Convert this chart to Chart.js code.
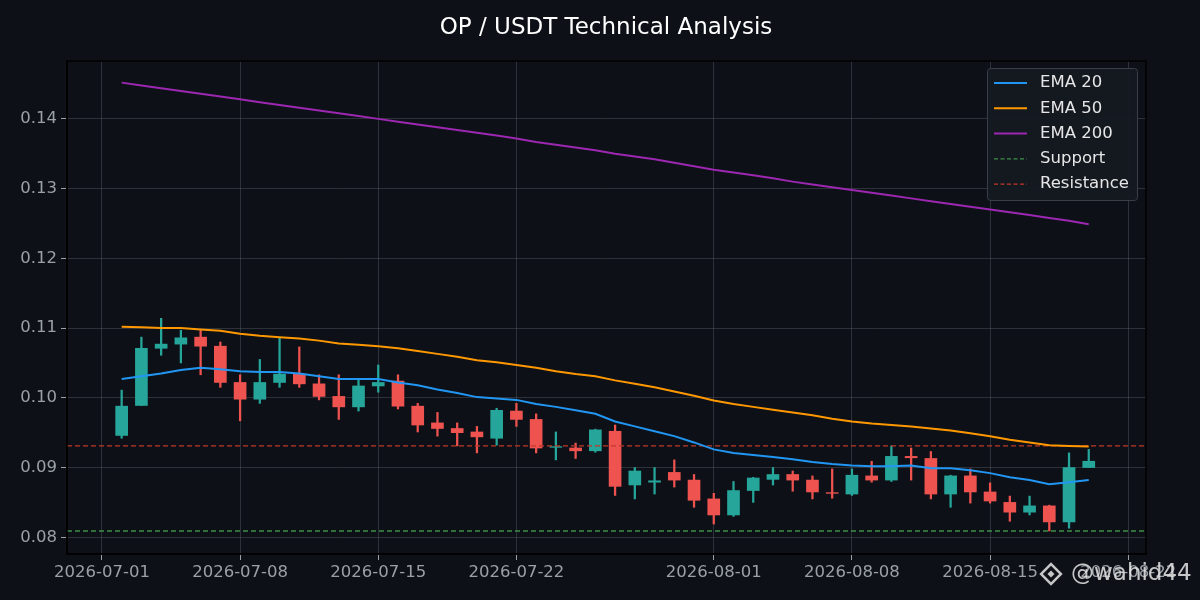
<!DOCTYPE html>
<html><head><meta charset="utf-8">
<script src="https://cdn.jsdelivr.net/npm/chart.js@4"></script>
<style>html,body{margin:0;background:#0d1117;}#w{width:1200px;height:600px;}</style>
</head><body><div id="w"><canvas id="c" width="1200" height="600"></canvas></div>
<script>
// day index 0 = 2026-07-01
const startDay = 1;
const opens  = [0.0946,0.0989,0.1071,0.1077,0.1087,0.1074,0.1022,0.0998,0.1022,0.1034,0.1020,0.1002,0.0987,0.1017,0.1024,0.0988,0.0964,0.0956,0.0951,0.0942,0.0981,0.0969,0.0929,0.0928,0.0924,0.0952,0.0875,0.0879,0.0893,0.0882,0.0855,0.0832,0.0867,0.0883,0.0890,0.0882,0.0864,0.0862,0.0888,0.0882,0.0916,0.0913,0.0862,0.0888,0.0865,0.0850,0.0836,0.0845,0.0822,0.0900];
const closes = [0.0988,0.1071,0.1077,0.1086,0.1074,0.1022,0.0998,0.1022,0.1034,0.1020,0.1002,0.0987,0.1017,0.1022,0.0988,0.0961,0.0956,0.0950,0.0944,0.0982,0.0969,0.0928,0.0930,0.0924,0.0954,0.0873,0.0895,0.0881,0.0882,0.0853,0.0832,0.0867,0.0885,0.0890,0.0882,0.0865,0.0863,0.0889,0.0882,0.0916,0.0914,0.0862,0.0888,0.0865,0.0852,0.0836,0.0845,0.0822,0.0900,0.0909];
const highs  = [0.1011,0.1087,0.1114,0.1097,0.1097,0.1080,0.1033,0.1055,0.1086,0.1073,0.1033,0.1033,0.1028,0.1047,0.1033,0.0992,0.0979,0.0964,0.0959,0.0985,0.0992,0.0977,0.0951,0.0935,0.0955,0.0961,0.0900,0.0900,0.0911,0.0890,0.0863,0.0880,0.0886,0.0900,0.0895,0.0888,0.0898,0.0898,0.0909,0.0931,0.0928,0.0923,0.0889,0.0898,0.0878,0.0859,0.0859,0.0846,0.0921,0.0926];
const lows   = [0.0942,0.0989,0.1061,0.1050,0.1033,0.1015,0.0967,0.0992,0.1015,0.1015,0.0997,0.0969,0.0981,0.1008,0.0984,0.0951,0.0945,0.0931,0.0921,0.0932,0.0959,0.0921,0.0911,0.0913,0.0922,0.0860,0.0855,0.0862,0.0872,0.0843,0.0819,0.0830,0.0850,0.0875,0.0866,0.0855,0.0856,0.0860,0.0879,0.0880,0.0882,0.0855,0.0843,0.0849,0.0849,0.0823,0.0832,0.0809,0.0813,0.0900];
const ema20  = [0.1027,0.1031,0.1035,0.1040,0.1043,0.1041,0.1038,0.1037,0.1037,0.1035,0.1031,0.1027,0.1027,0.1027,0.1022,0.1018,0.1012,0.1007,0.1001,0.0999,0.0997,0.0991,0.0987,0.0982,0.0977,0.0966,0.0959,0.0952,0.0945,0.0936,0.0926,0.0921,0.0918,0.0915,0.0912,0.0908,0.0905,0.0903,0.0902,0.0902,0.0903,0.0899,0.0899,0.0896,0.0892,0.0886,0.0882,0.0876,0.0879,0.0882];
const ema50  = [0.1102,0.1101,0.1100,0.1100,0.1098,0.1096,0.1092,0.1089,0.1087,0.1085,0.1082,0.1078,0.1076,0.1074,0.1071,0.1067,0.1063,0.1059,0.1054,0.1051,0.1047,0.1043,0.1038,0.1034,0.1031,0.1025,0.1020,0.1015,0.1009,0.1003,0.0996,0.0991,0.0987,0.0983,0.0979,0.0975,0.0970,0.0966,0.0963,0.0961,0.0959,0.0956,0.0953,0.0949,0.0945,0.0940,0.0936,0.0932,0.0931,0.0930];
const ema200 = [0.1452,0.1448,0.1444,0.1440,0.1436,0.1432,0.1428,0.1424,0.1420,0.1416,0.1412,0.1408,0.1404,0.1400,0.1396,0.1392,0.1388,0.1384,0.1380,0.1376,0.1372,0.1367,0.1363,0.1359,0.1355,0.1350,0.1346,0.1342,0.1337,0.1332,0.1327,0.1323,0.1319,0.1315,0.1310,0.1306,0.1302,0.1298,0.1294,0.1290,0.1286,0.1282,0.1278,0.1274,0.1270,0.1266,0.1262,0.1258,0.1254,0.1249];
const support = 0.0809, resistance = 0.0931;
const tickDays = [0,7,14,21,31,38,45,52];
const tickLabels = ['2026-07-01','2026-07-08','2026-07-15','2026-07-22','2026-08-01','2026-08-08','2026-08-15','2026-08-22'];
const title = 'OP / USDT Technical Analysis';

const UP='#26a69a', DN='#ef5350';
const xs = opens.map((_,i)=>startDay+i);
const col = opens.map((o,i)=> closes[i]>=o?UP:DN);
const line = (arr,c,label)=>({type:'line',label,data:arr.map((v,i)=>({x:xs[i],y:v})),borderColor:c,borderWidth:2,pointRadius:0,tension:0,order:0});
const xmin=-1.77, xmax=52.9;
const hline=(v,c,label)=>({type:'line',label,data:[{x:xmin,y:v},{x:xmax,y:v}],borderColor:c,borderWidth:1.3,borderDash:[5,3],pointRadius:0,order:1});

const legendPlugin={id:'lg',afterDraw(ch){
  const c=ch.ctx;
  c.save();
  c.fillStyle='#ffffff';c.font='23px "DejaVu Sans"';c.textAlign='center';c.textBaseline='middle';
  c.fillText(title,606,28);
  const x=987,y=68,w=150,h=132;
  c.fillStyle='rgba(21,26,34,0.92)';c.strokeStyle='#3a3f47';c.lineWidth=1;
  c.beginPath();c.roundRect(x+0.5,y+0.5,w,h,3);c.fill();c.stroke();
  const items=[['EMA 20','#2196f3',null],['EMA 50','#ff9800',null],['EMA 200','#9c27b0',null],['Support','#3f8f4a',[4,2.5]],['Resistance','#c0392b',[4,2.5]]];
  c.font='16.5px "DejaVu Sans"';c.textAlign='left';
  items.forEach((it,i)=>{const yy=y+15+i*25.3;
    c.strokeStyle=it[1];c.lineWidth=it[2]?1.3:2;c.setLineDash(it[2]||[]);
    c.beginPath();c.moveTo(x+7,yy);c.lineTo(x+40,yy);c.stroke();c.setLineDash([]);
    c.fillStyle='#e6e6e6';c.fillText(it[0],x+53,yy);});
  c.fillStyle='rgba(230,230,230,0.85)';c.font='23px "DejaVu Sans"';c.textAlign='left';
  c.fillText('@wahid44',1071,574);
  c.translate(1051,574);c.rotate(Math.PI/4);c.strokeStyle='rgba(230,230,230,0.85)';c.lineWidth=2.5;
  c.strokeRect(-7,-7,14,14);c.fillStyle='rgba(230,230,230,0.85)';c.fillRect(-2.5,-2.5,5,5);
  c.restore();
}};

new Chart(document.getElementById('c'),{
  data:{datasets:[
    line(ema20,'#2196f3','EMA 20'),line(ema50,'#ff9800','EMA 50'),line(ema200,'#9c27b0','EMA 200'),
    hline(support,'#3f8f4a','Support'),hline(resistance,'#c0392b','Resistance'),
    {type:'bar',label:'wick',data:xs.map((x,i)=>({x,y:[lows[i],highs[i]]})),backgroundColor:col,barThickness:1.6,grouped:false,order:3},
    {type:'bar',label:'body',data:xs.map((x,i)=>({x,y:[opens[i],closes[i]===opens[i]?opens[i]+0.00005:closes[i]]})),backgroundColor:col,barThickness:12,grouped:false,order:2}
  ]},
  options:{responsive:false,animation:false,
    layout:{padding:{top:61,right:54,left:0,bottom:0}},
    plugins:{legend:{display:false},tooltip:{enabled:false}},
    scales:{
      x:{type:'linear',min:xmin,max:xmax,offset:false,bounds:'data',
        afterFit:s=>{s.height=46;},
        afterBuildTicks:s=>{s.ticks=tickDays.map(v=>({value:v}));},
        ticks:{color:'#9aa0a6',font:{family:'DejaVu Sans',size:16.5},maxRotation:0,autoSkip:false,padding:3,callback:(v)=>{const k=tickDays.indexOf(v);return k>=0?tickLabels[k]:'';}},
        grid:{offset:false,color:'rgba(120,125,135,0.3)',tickColor:'#9aa0a6',tickLength:6,lineWidth:1,tickBorderDash:[],drawOnChartArea:true},
        border:{color:'#000',width:1.5}},
      y:{min:0.0776,max:0.1483,
        afterFit:s=>{s.width=67;},
        afterBuildTicks:s=>{s.ticks=[0.08,0.09,0.10,0.11,0.12,0.13,0.14].map(v=>({value:v}));},
        ticks:{color:'#9aa0a6',font:{family:'DejaVu Sans',size:16.5},padding:4,callback:v=>v.toFixed(2)},
        grid:{color:'rgba(120,125,135,0.3)',tickColor:'#9aa0a6',tickLength:6},
        border:{color:'#000',width:1.5}}
    }},
  plugins:[legendPlugin,{id:'frame',afterDraw(ch){const a=ch.chartArea,c=ch.ctx;c.save();c.strokeStyle='#000';c.lineWidth=1.5;c.strokeRect(a.left,a.top,a.right-a.left,a.bottom-a.top);c.restore();}}]
});
</script></body></html>
